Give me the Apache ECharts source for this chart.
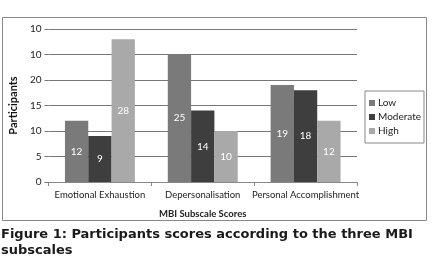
<!DOCTYPE html>
<html>
<head>
<meta charset="utf-8">
<script src="https://cdn.jsdelivr.net/npm/echarts@6/dist/echarts.min.js"></script>
<style>
  html, body { margin: 0; padding: 0; background: #fff; }
  #chart { width: 441px; height: 257px; }
</style>
</head>
<body>
<div id="chart"></div>
<script>
// datos
var categories = ['Emotional Exhaustion', 'Depersonalisation', 'Personal Accomplishment'];
var low = [12, 25, 19];
var moderate = [9, 14, 18];
var high = [28, 10, 12];
// etiquetas del eje Y tal como aparecen en la imagen
var yTickLabels = ['0', '5', '10', '15', '20', '10', '10'];

var myChart = echarts.init(document.getElementById('chart'));

var font = 'Lato, "DejaVu Sans", sans-serif';
var barLabel = {
  show: true,
  position: 'inside',
  color: '#fff',
  fontSize: 10,
  fontFamily: font
};

option = {
  animation: false,
  textStyle: { fontFamily: font },
  graphic: [
    {
      type: 'rect',
      shape: { x: 2.5, y: 17.5, width: 424, height: 203 },
      style: { fill: 'none', stroke: '#888', lineWidth: 1 },
      z: 0
    },
    {
      type: 'text',
      left: 1, top: 227,
      style: {
        text: 'Figure 1: Participants scores according to the three MBI\nsubscales',
        fontSize: 13, fontWeight: 'bold', fontFamily: '"DejaVu Sans", sans-serif',
        fill: '#1a1a1a', lineHeight: 16
      }
    }
  ],
  legend: {
    orient: 'vertical',
    left: 365, top: 91,
    width: 58,
    padding: [7, 3, 7, 4],
    itemGap: 4,
    itemWidth: 6, itemHeight: 6,
    icon: 'rect',
    borderColor: '#888', borderWidth: 1,
    textStyle: { fontSize: 10, color: '#222', padding: [0, 0, 0, -2] },
    data: ['Low', 'Moderate', 'High']
  },
  grid: { left: 38, right: 84, top: 29, bottom: 75 },
  xAxis: {
    type: 'category',
    data: categories,
    name: 'MBI Subscale Scores',
    nameLocation: 'middle',
    nameGap: 27,
    nameTextStyle: { fontSize: 9.5, fontWeight: 'bold', color: '#222' },
    axisLine: { lineStyle: { color: '#888' } },
    axisTick: { show: true, length: 4, lineStyle: { color: '#888' } },
    axisLabel: { fontSize: 9.5, color: '#222', margin: 8, interval: 0 }
  },
  yAxis: {
    type: 'value',
    min: 0, max: 30, interval: 5,
    name: 'Participants',
    nameLocation: 'middle',
    nameGap: 26,
    nameTextStyle: { fontSize: 11, fontWeight: 'bold', color: '#111' },
    axisLine: { show: false },
    axisTick: { show: true, length: 4, lineStyle: { color: '#777' } },
    axisLabel: {
      fontSize: 10, color: '#222', margin: 7,
      formatter: function (v) { return yTickLabels[Math.round(v / 5)]; }
    },
    splitLine: { lineStyle: { color: '#777' } }
  },
  series: [
    { name: 'Low', type: 'bar', data: low, barGap: '0%', barCategoryGap: '32%',
      itemStyle: { color: '#7a7a7a' }, label: barLabel },
    { name: 'Moderate', type: 'bar', data: moderate,
      itemStyle: { color: '#3e3e3e' }, label: barLabel },
    { name: 'High', type: 'bar', data: high,
      itemStyle: { color: '#a9a9a9' }, label: barLabel }
  ]
};
myChart.setOption(option);
</script>
</body>
</html>
